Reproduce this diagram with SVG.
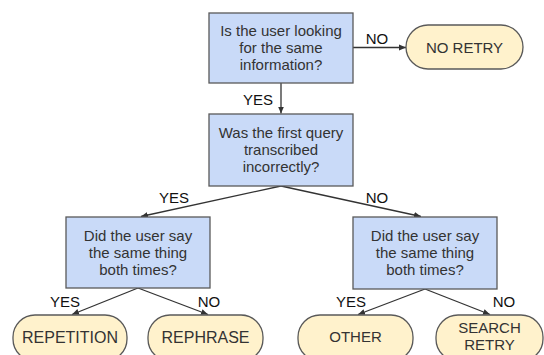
<svg xmlns="http://www.w3.org/2000/svg" width="544" height="355" viewBox="0 0 544 355">
  <defs>
    <marker id="arrow" markerWidth="8" markerHeight="8" refX="7" refY="4" orient="auto" markerUnits="userSpaceOnUse">
      <path d="M0,1 L7,4 L0,7 z" fill="#333"/>
    </marker>
    <style>
      .q rect { fill: #c9daf8; stroke: #595959; stroke-width: 1.3; }
      .end rect { fill: #fff2cc; stroke: #595959; stroke-width: 1.3; }
      .t { font-family: "Liberation Sans", Arial, sans-serif; font-size: 15px; fill: #333; text-anchor: middle; }
      .big { font-size: 16px; }
      .lbl { font-family: "Liberation Sans", Arial, sans-serif; font-size: 15px; fill: #111; text-anchor: middle; }
      .edges path { stroke: #333; stroke-width: 1.3; fill: none; marker-end: url(#arrow); }
    </style>
  </defs>
  <rect width="544" height="355" fill="#fff"/>

  <!-- connectors -->
  <g class="edges">
    <path d="M353,47.5 L406,47.5"/>
    <path d="M281,83 L281,113.5"/>
    <path d="M281,186 L141,216.5"/>
    <path d="M281,186 L421,216.5"/>
    <path d="M138,288 L72,314.5"/>
    <path d="M138,288 L208,314.5"/>
    <path d="M425,289 L358,314.5"/>
    <path d="M425,289 L490,314.5"/>
  </g>

  <!-- connector labels -->
  <g id="labels">
    <text class="lbl" x="377" y="44">NO</text>
    <text class="lbl" x="258" y="105">YES</text>
    <text class="lbl" x="174" y="203">YES</text>
    <text class="lbl" x="377" y="203">NO</text>
    <text class="lbl" x="65" y="307">YES</text>
    <text class="lbl" x="209" y="307">NO</text>
    <text class="lbl" x="351" y="307">YES</text>
    <text class="lbl" x="504" y="307">NO</text>
  </g>

  <!-- decision nodes -->
  <g id="q-same-info" class="q">
    <rect x="209" y="13" width="144" height="70"/>
    <text class="t" x="281" y="36">Is the user looking</text>
    <text class="t" x="281" y="53">for the same</text>
    <text class="t" x="281" y="70">information?</text>
  </g>
  <g id="q-transcribed" class="q">
    <rect x="209" y="114" width="144" height="72"/>
    <text class="t" x="281" y="138">Was the first query</text>
    <text class="t" x="281" y="155">transcribed</text>
    <text class="t" x="281" y="172">incorrectly?</text>
  </g>
  <g id="q-same-thing-left" class="q">
    <rect x="66" y="217" width="144" height="71"/>
    <text class="t" x="138" y="240.5">Did the user say</text>
    <text class="t" x="138" y="257.5">the same thing</text>
    <text class="t" x="138" y="274.5">both times?</text>
  </g>
  <g id="q-same-thing-right" class="q">
    <rect x="353" y="217" width="144" height="72"/>
    <text class="t" x="425" y="241">Did the user say</text>
    <text class="t" x="425" y="258">the same thing</text>
    <text class="t" x="425" y="275">both times?</text>
  </g>

  <!-- outcome nodes -->
  <g id="no-retry" class="end">
    <rect x="406" y="25" width="117" height="44" rx="22"/>
    <text class="t" x="464.5" y="52.5">NO RETRY</text>
  </g>
  <g id="repetition" class="end">
    <rect x="13" y="315" width="114" height="46" rx="22"/>
    <text class="t big" x="70" y="343">REPETITION</text>
  </g>
  <g id="rephrase" class="end">
    <rect x="148" y="315" width="115" height="46" rx="22"/>
    <text class="t big" x="205.5" y="343">REPHRASE</text>
  </g>
  <g id="other" class="end">
    <rect x="298" y="315" width="115" height="46" rx="22"/>
    <text class="t" x="355.5" y="342">OTHER</text>
  </g>
  <g id="search-retry" class="end">
    <rect x="436" y="315" width="107" height="46" rx="22"/>
    <text class="t" x="489.5" y="333">SEARCH</text>
    <text class="t" x="489.5" y="350">RETRY</text>
  </g>
</svg>
